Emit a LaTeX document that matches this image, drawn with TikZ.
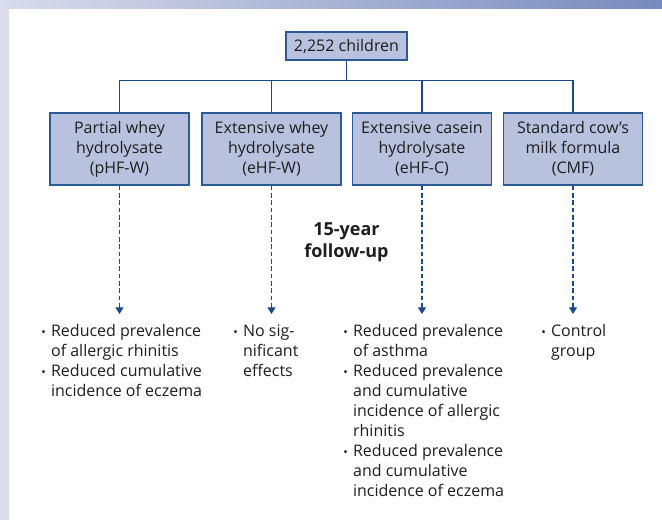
\documentclass[tikz,border=0pt]{standalone}
\usepackage{fontspec}
\setmainfont{Open Sans}
\usetikzlibrary{arrows.meta}
\definecolor{navy}{HTML}{1B4A8C}
\definecolor{boxfill}{HTML}{B8C1DD}
\definecolor{boxline}{HTML}{2D5A97}
\definecolor{framelight}{HTML}{D8DCEB}
\definecolor{framedark}{HTML}{788ABD}
\definecolor{txt}{HTML}{1E1E1E}
\newcommand{\blt}{{\small\textbullet}}
\tikzset{
  armbox/.style={draw=boxline, fill=boxfill, line width=0.9pt, text=txt,
    minimum width=104.25pt, minimum height=54pt, inner sep=0pt, align=center,
    font=\fontsize{12}{15}\selectfont},
  startbox/.style={armbox, minimum width=90.75pt, minimum height=21pt},
  outcome/.style={anchor=base west, inner sep=0pt, text=txt,
    font=\fontsize{12}{15}\selectfont},
  branch/.style={draw=navy, line width=0.9pt},
  followup/.style={draw=navy, line width=0.9pt, dash pattern=on 3.5pt off 2pt,
    -{Triangle[width=6pt,length=5pt]}}
}
\begin{document}
\begin{tikzpicture}[x=0.75pt, y=-0.75pt]
        % frame of the panel
        \useasboundingbox (0,0) rectangle (662,520);
        \fill[white] (0,0) rectangle (662,520);
        \fill[framelight] (0,0) rectangle (9,520);
        \shade[left color=framelight, right color=framedark] (0,0) rectangle (662,9);
        % study population and the four formulas
        \node[startbox] (children) at (346.5,46) {2,252 children};
        \node[armbox] (phfw) at (119.5,149) {Partial whey\\hydrolysate\\(pHF-W)};
        \node[armbox] (ehfw) at (271.5,149) {Extensive whey\\hydrolysate\\(eHF-W)};
        \node[armbox] (ehfc) at (422,149)   {Extensive casein\\hydrolysate\\(eHF-C)};
        \node[armbox] (cmf)  at (573,149)   {Standard cow's\\milk formula\\(CMF)};
        % coordinates for the branching line
        \coordinate (split) at (346.5,80.5);
        \coordinate (tipphfw) at (119.5,314);
        \coordinate (tipehfw) at (271.5,314);
        \coordinate (tipehfc) at (422,314);
        \coordinate (tipcmf)  at (573,314);
        % drawing the branches
        \draw[branch] (children.south) -- (split);
        \draw[branch] (phfw.north) |- (split) -| (cmf.north);
        \draw[branch] (ehfw.north) -- (ehfw.north |- split);
        \draw[branch] (ehfc.north) -- (ehfc.north |- split);
        % follow-up arrows
        \draw[followup] (phfw.south) -- (tipphfw);
        \draw[followup] (ehfw.south) -- (tipehfw);
        \draw[followup] (ehfc.south) -- (tipehfc);
        \draw[followup] (cmf.south)  -- (tipcmf);
        \node[text=txt, align=center, font=\fontsize{13.5}{16.5}\selectfont\bfseries]
          (years) at (346.5,242) {15-year\\follow-up};
        % outcomes
        \node[outcome] (resphfw) at (41,337) {\begin{tabular}[t]{@{}l@{\hspace{4pt}}l@{}}
          \blt & Reduced prevalence\\ & of allergic rhinitis\\
          \blt & Reduced cumulative\\ & incidence of eczema\end{tabular}};
        \node[outcome] (resehfw) at (233,337) {\begin{tabular}[t]{@{}l@{\hspace{4pt}}l@{}}
          \blt & No sig-\\ & nificant\\ & effects\end{tabular}};
        \node[outcome] (resehfc) at (343,337) {\begin{tabular}[t]{@{}l@{\hspace{4pt}}l@{}}
          \blt & Reduced prevalence\\ & of asthma\\
          \blt & Reduced prevalence\\ & and cumulative\\ & incidence of allergic\\ & rhinitis\\
          \blt & Reduced prevalence\\ & and cumulative\\ & incidence of eczema\end{tabular}};
        \node[outcome] (rescmf) at (541,337) {\begin{tabular}[t]{@{}l@{\hspace{4pt}}l@{}}
          \blt & Control\\ & group\end{tabular}};
      \end{tikzpicture}
\end{document}
